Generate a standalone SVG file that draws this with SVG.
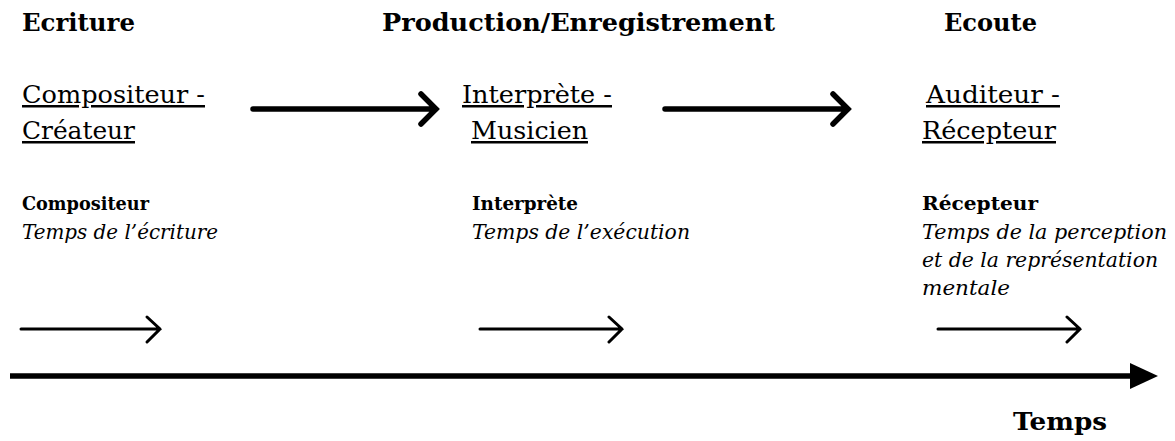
<svg xmlns="http://www.w3.org/2000/svg" width="1175" height="441" viewBox="0 0 1175 441">
<style>
text{font-family:"DejaVu Serif","Liberation Serif",serif;fill:#000}
.h{font-weight:bold;font-size:24px}
.u{font-size:25px;text-decoration:underline}
.b{font-weight:bold;font-size:18px}
.i{font-style:italic;font-size:20px}
.big{stroke:#000;stroke-width:5.5;fill:none;stroke-linecap:round;stroke-linejoin:miter}
.sm{stroke:#000;stroke-width:3;fill:none;stroke-linecap:round}
</style>
<rect width="1175" height="441" fill="#fff"/>
<g id="col-ecriture">
<text class="h" x="22" y="31" textLength="113" lengthAdjust="spacingAndGlyphs">Ecriture</text>
<text class="u" x="22" y="103" textLength="183" lengthAdjust="spacingAndGlyphs">Compositeur -</text>
<text class="u" x="22" y="139" textLength="113" lengthAdjust="spacingAndGlyphs">Créateur</text>
<text class="b" x="22" y="210" textLength="127" lengthAdjust="spacingAndGlyphs">Compositeur</text>
<text class="i" x="22" y="239" textLength="196" lengthAdjust="spacingAndGlyphs">Temps de l’écriture</text>
</g>
<g id="col-production">
<text class="h" x="382" y="31" textLength="393" lengthAdjust="spacingAndGlyphs">Production/Enregistrement</text>
<text class="u" x="462" y="103" textLength="150" lengthAdjust="spacingAndGlyphs">Interprète -</text>
<text class="u" x="471" y="139" textLength="117" lengthAdjust="spacingAndGlyphs">Musicien</text>
<text class="b" x="472" y="210" textLength="106" lengthAdjust="spacingAndGlyphs">Interprète</text>
<text class="i" x="472" y="239" textLength="218" lengthAdjust="spacingAndGlyphs">Temps de l’exécution</text>
</g>
<g id="col-ecoute">
<text class="h" x="944" y="31" textLength="93" lengthAdjust="spacingAndGlyphs">Ecoute</text>
<text class="u" x="926" y="103" textLength="134" lengthAdjust="spacingAndGlyphs">Auditeur -</text>
<text class="u" x="922" y="139" textLength="134" lengthAdjust="spacingAndGlyphs">Récepteur</text>
<text class="b" x="922" y="210" textLength="116" lengthAdjust="spacingAndGlyphs">Récepteur</text>
<text class="i" x="922" y="239" textLength="245" lengthAdjust="spacingAndGlyphs">Temps de la perception</text>
<text class="i" x="922" y="267" textLength="236" lengthAdjust="spacingAndGlyphs">et de la représentation</text>
<text class="i" x="922" y="295" textLength="88" lengthAdjust="spacingAndGlyphs">mentale</text>
</g>
<g id="time-label">
<text class="h" x="1013" y="430" font-size="25" textLength="94" lengthAdjust="spacingAndGlyphs">Temps</text>
</g>
<g id="connectors">
<path class="big" d="M253,109 H436 M421,94 L436,109 L421,124"/>
<path class="big" d="M665,109 H848 M833,94 L848,109 L833,124"/>
<path class="sm" d="M21,329 H160 M147,317 L160,329 L147,342"/>
<path class="sm" d="M480,329 H622 M609,317 L622,329 L609,342"/>
<path class="sm" d="M938,329 H1080 M1067,317 L1080,329 L1067,342"/>
<line x1="10" y1="376" x2="1132" y2="376" stroke="#000" stroke-width="5.5"/>
<polygon points="1130,363 1158,376 1130,389" fill="#000"/>
</g>
</svg>
